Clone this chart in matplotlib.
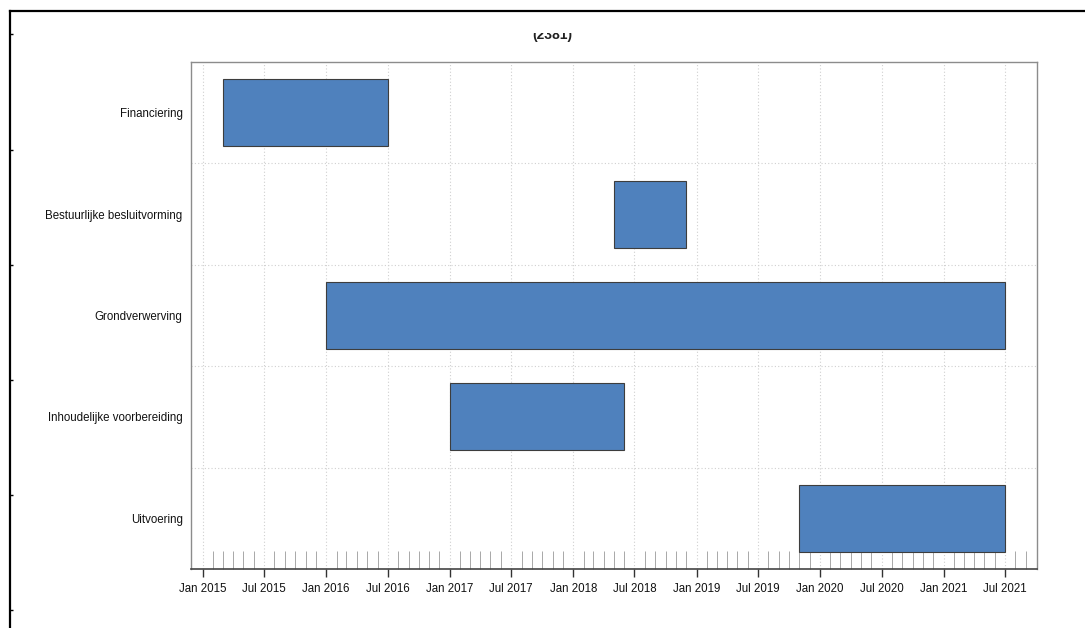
"""
Gantt-style timeline of project phases (2381).
"""
import matplotlib
matplotlib.use("Agg")
import matplotlib.pyplot as plt
import matplotlib.dates as mdates
from matplotlib.transforms import Bbox, TransformedBbox
import pandas as pd

# Project phases, top to bottom
tasks = [
    "Financiering",
    "Bestuurlijke besluitvorming",
    "Grondverwerving",
    "Inhoudelijke voorbereiding",
    "Uitvoering",
]
starts = ["2015-03-01", "2018-05-01", "2016-01-01", "2017-01-01", "2019-11-01"]
ends = ["2016-07-01", "2018-12-01", "2021-07-01", "2018-06-01", "2021-07-01"]
x_range = ["2014-11-27", "2021-10-04"]
month_ticks = ["2015-01-01", "2021-09-01"]
title = "(2381)"

W, H = 1085, 628
plt.rcParams["font.family"] = ["Liberation Sans", "DejaVu Sans"]

fig = plt.figure(figsize=(W / 100, H / 100), dpi=100)

# Outer frame of the page (left and top line with small marks)
frame = fig.add_axes([10 / W, 0, 1 - 10 / W, 1 - 11 / H])
frame.set_xlim(0, 1)
frame.set_ylim(0, H - 11)
frame.spines[["right", "bottom"]].set_visible(False)
frame.spines[["left", "top"]].set_linewidth(1.6)
frame.set_xticks([])
frame.set_yticks([H - 34, H - 150, H - 265, H - 380, H - 495, H - 610])
frame.tick_params(axis="y", direction="in", length=2, width=1, labelleft=False)
frame.patch.set_alpha(0)

# Main chart
ax = fig.add_axes([191 / W, 59 / H, (1037 - 191) / W, (569 - 62) / H])

start_d = mdates.date2num(pd.to_datetime(starts))
end_d = mdates.date2num(pd.to_datetime(ends))
y = list(range(len(tasks)))

ax.barh(y, end_d - start_d, left=start_d, height=0.66,
        color="#4F81BD", edgecolor="#3d3d3d", linewidth=0.8, zorder=3)

ax.set_ylim(len(tasks) - 0.5, -0.5)
ax.set_yticks(y)
ax.set_yticklabels(tasks)
ax.set_yticks([i + 0.5 for i in y[:-1]], minor=True)
ax.tick_params(axis="y", which="both", length=0, pad=6, labelsize=8.3, labelcolor="#111111")

xr = mdates.date2num(pd.to_datetime(x_range))
ax.set_xlim(xr[0], xr[1])
ax.xaxis.set_major_locator(mdates.MonthLocator(bymonth=[1, 7]))
ax.xaxis.set_major_formatter(mdates.DateFormatter("%b %Y"))
minor = pd.date_range(month_ticks[0], month_ticks[1], freq="MS")
ax.set_xticks(mdates.date2num(minor), minor=True)
ax.tick_params(axis="x", which="major", direction="out", length=6, width=1,
               color="#333333", pad=4, labelsize=8.3, labelcolor="#111111")
ax.tick_params(axis="x", which="minor", direction="in", length=13, width=0.7,
               color="#a8a8a8")

# Dotted grid: dates and category boundaries
ax.grid(axis="x", which="major", linestyle=(0, (1, 2)), color="#d0d0d0", linewidth=0.8)
ax.grid(axis="y", which="minor", linestyle=(0, (1, 2)), color="#d0d0d0", linewidth=0.8)
ax.set_axisbelow(True)

for side in ["left", "top", "right"]:
    ax.spines[side].set_color("#8c8c8c")
    ax.spines[side].set_linewidth(1.0)
ax.spines["bottom"].set_color("#444444")
ax.spines["bottom"].set_linewidth(1.2)

# Title, cut off at the top as in the screenshot
t = fig.text(552 / W, 1 - 39.5 / H, title, ha="center", va="baseline",
             fontsize=10, fontweight="bold", color="#222222")
t.set_clip_box(TransformedBbox(Bbox([[0, 0], [1, 1 - 32.5 / H]]), fig.transFigure))
t.set_clip_on(True)

fig.savefig("out.png", dpi=100)
plt.close(fig)
